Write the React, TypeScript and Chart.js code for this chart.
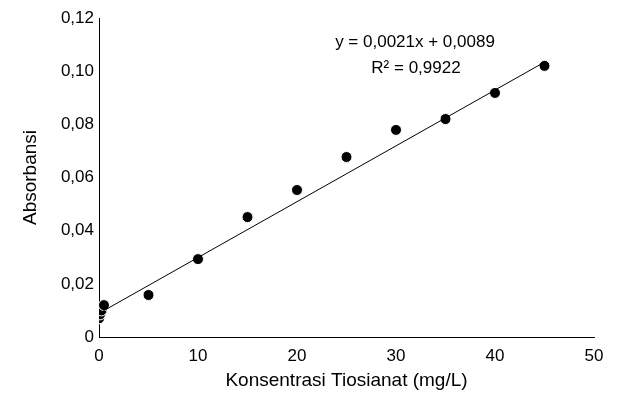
import React, { useEffect, useRef } from "react";
import { Chart, registerables } from "chart.js";

Chart.register(...registerables);

const concentrations = [0, 0.1, 0.25, 0.5, 5, 10, 15, 20, 25, 30, 35, 40, 45];
const absorbances = [0.007, 0.0085, 0.01, 0.012, 0.0158, 0.0293, 0.0451, 0.0553, 0.0677, 0.0779, 0.082, 0.0918, 0.102];

const trendSlope = 0.0021;
const trendIntercept = 0.0089;
const trendRange = [0, 45];

const yTickLabels = ["0", "0,02", "0,04", "0,06", "0,08", "0,10", "0,12"];
const xTickLabels = ["0", "10", "20", "30", "40", "50"];

const equationText = "y = 0,0021x + 0,0089";
const r2Text = "R² = 0,9922";
const xTitle = "Konsentrasi Tiosianat (mg/L)";
const yTitle = "Absorbansi";

const FONT = "'Liberation Sans', Arial, sans-serif";
const TICK_FS = 17;
const TITLE_FS = 19;

export default function App() {
  const ref = useRef<HTMLCanvasElement | null>(null);

  useEffect(() => {
    document.body.style.margin = "0";
    const canvas = ref.current;
    if (!canvas) return;

    const points = concentrations.map((x, i) => ({ x, y: absorbances[i] }));
    const trend = trendRange.map((x) => ({ x, y: trendSlope * x + trendIntercept }));

    const annotate = {
      id: "annotate",
      afterDraw(chart: any) {
        const ctx = chart.ctx;
        ctx.save();
        ctx.fillStyle = "#000";
        ctx.font = `${TICK_FS}px ${FONT}`;
        ctx.textAlign = "center";
        ctx.textBaseline = "middle";
        ctx.fillText(equationText, 415, 42);
        ctx.fillText(r2Text, 416, 68);
        ctx.restore();
      },
    };

    const chart = new Chart(canvas, {
      type: "scatter",
      data: {
        datasets: [
          {
            type: "line",
            data: trend,
            borderColor: "#000",
            borderWidth: 1,
            pointRadius: 0,
            fill: false,
          } as any,
          {
            data: points,
            backgroundColor: "#000",
            borderColor: "#fff",
            borderWidth: 1,
            pointRadius: 5.5,
          },
        ],
      },
      options: {
        animation: false,
        responsive: false,
        maintainAspectRatio: false,
        events: [],
        layout: { padding: { left: 0, top: 18, right: 23, bottom: 0 } },
        plugins: { legend: { display: false }, tooltip: { enabled: false } },
        scales: {
          x: {
            type: "linear",
            min: 0,
            max: 50,
            ticks: {
              stepSize: 10,
              padding: 9,
              color: "#000",
              font: { family: FONT, size: TICK_FS },
              callback: (_v: any, i: number) => xTickLabels[i],
            },
            grid: { display: false, drawTicks: false },
            border: { display: true, color: "#000", width: 1 },
            title: {
              display: true,
              text: xTitle,
              color: "#000",
              font: { family: FONT, size: TITLE_FS },
              padding: { top: 0, bottom: 7 },
            },
            afterFit: (s: any) => {
              s.height = 62;
            },
          },
          y: {
            type: "linear",
            min: 0,
            max: 0.12,
            ticks: {
              stepSize: 0.02,
              padding: 5,
              color: "#000",
              font: { family: FONT, size: TICK_FS },
              callback: (_v: any, i: number) => yTickLabels[i],
            },
            grid: { display: false, drawTicks: false },
            border: { display: true, color: "#000", width: 1 },
            title: {
              display: true,
              text: yTitle,
              color: "#000",
              font: { family: FONT, size: TITLE_FS },
              padding: { top: 19, bottom: 0 },
            },
            afterFit: (s: any) => {
              s.width = 99;
            },
          },
        },
      },
      plugins: [annotate],
    });

    return () => chart.destroy();
  }, []);

  return (
    <div style={{ width: 617, height: 399 }}>
      <canvas ref={ref} width={617} height={399} style={{ width: 617, height: 399 }} />
    </div>
  );
}
